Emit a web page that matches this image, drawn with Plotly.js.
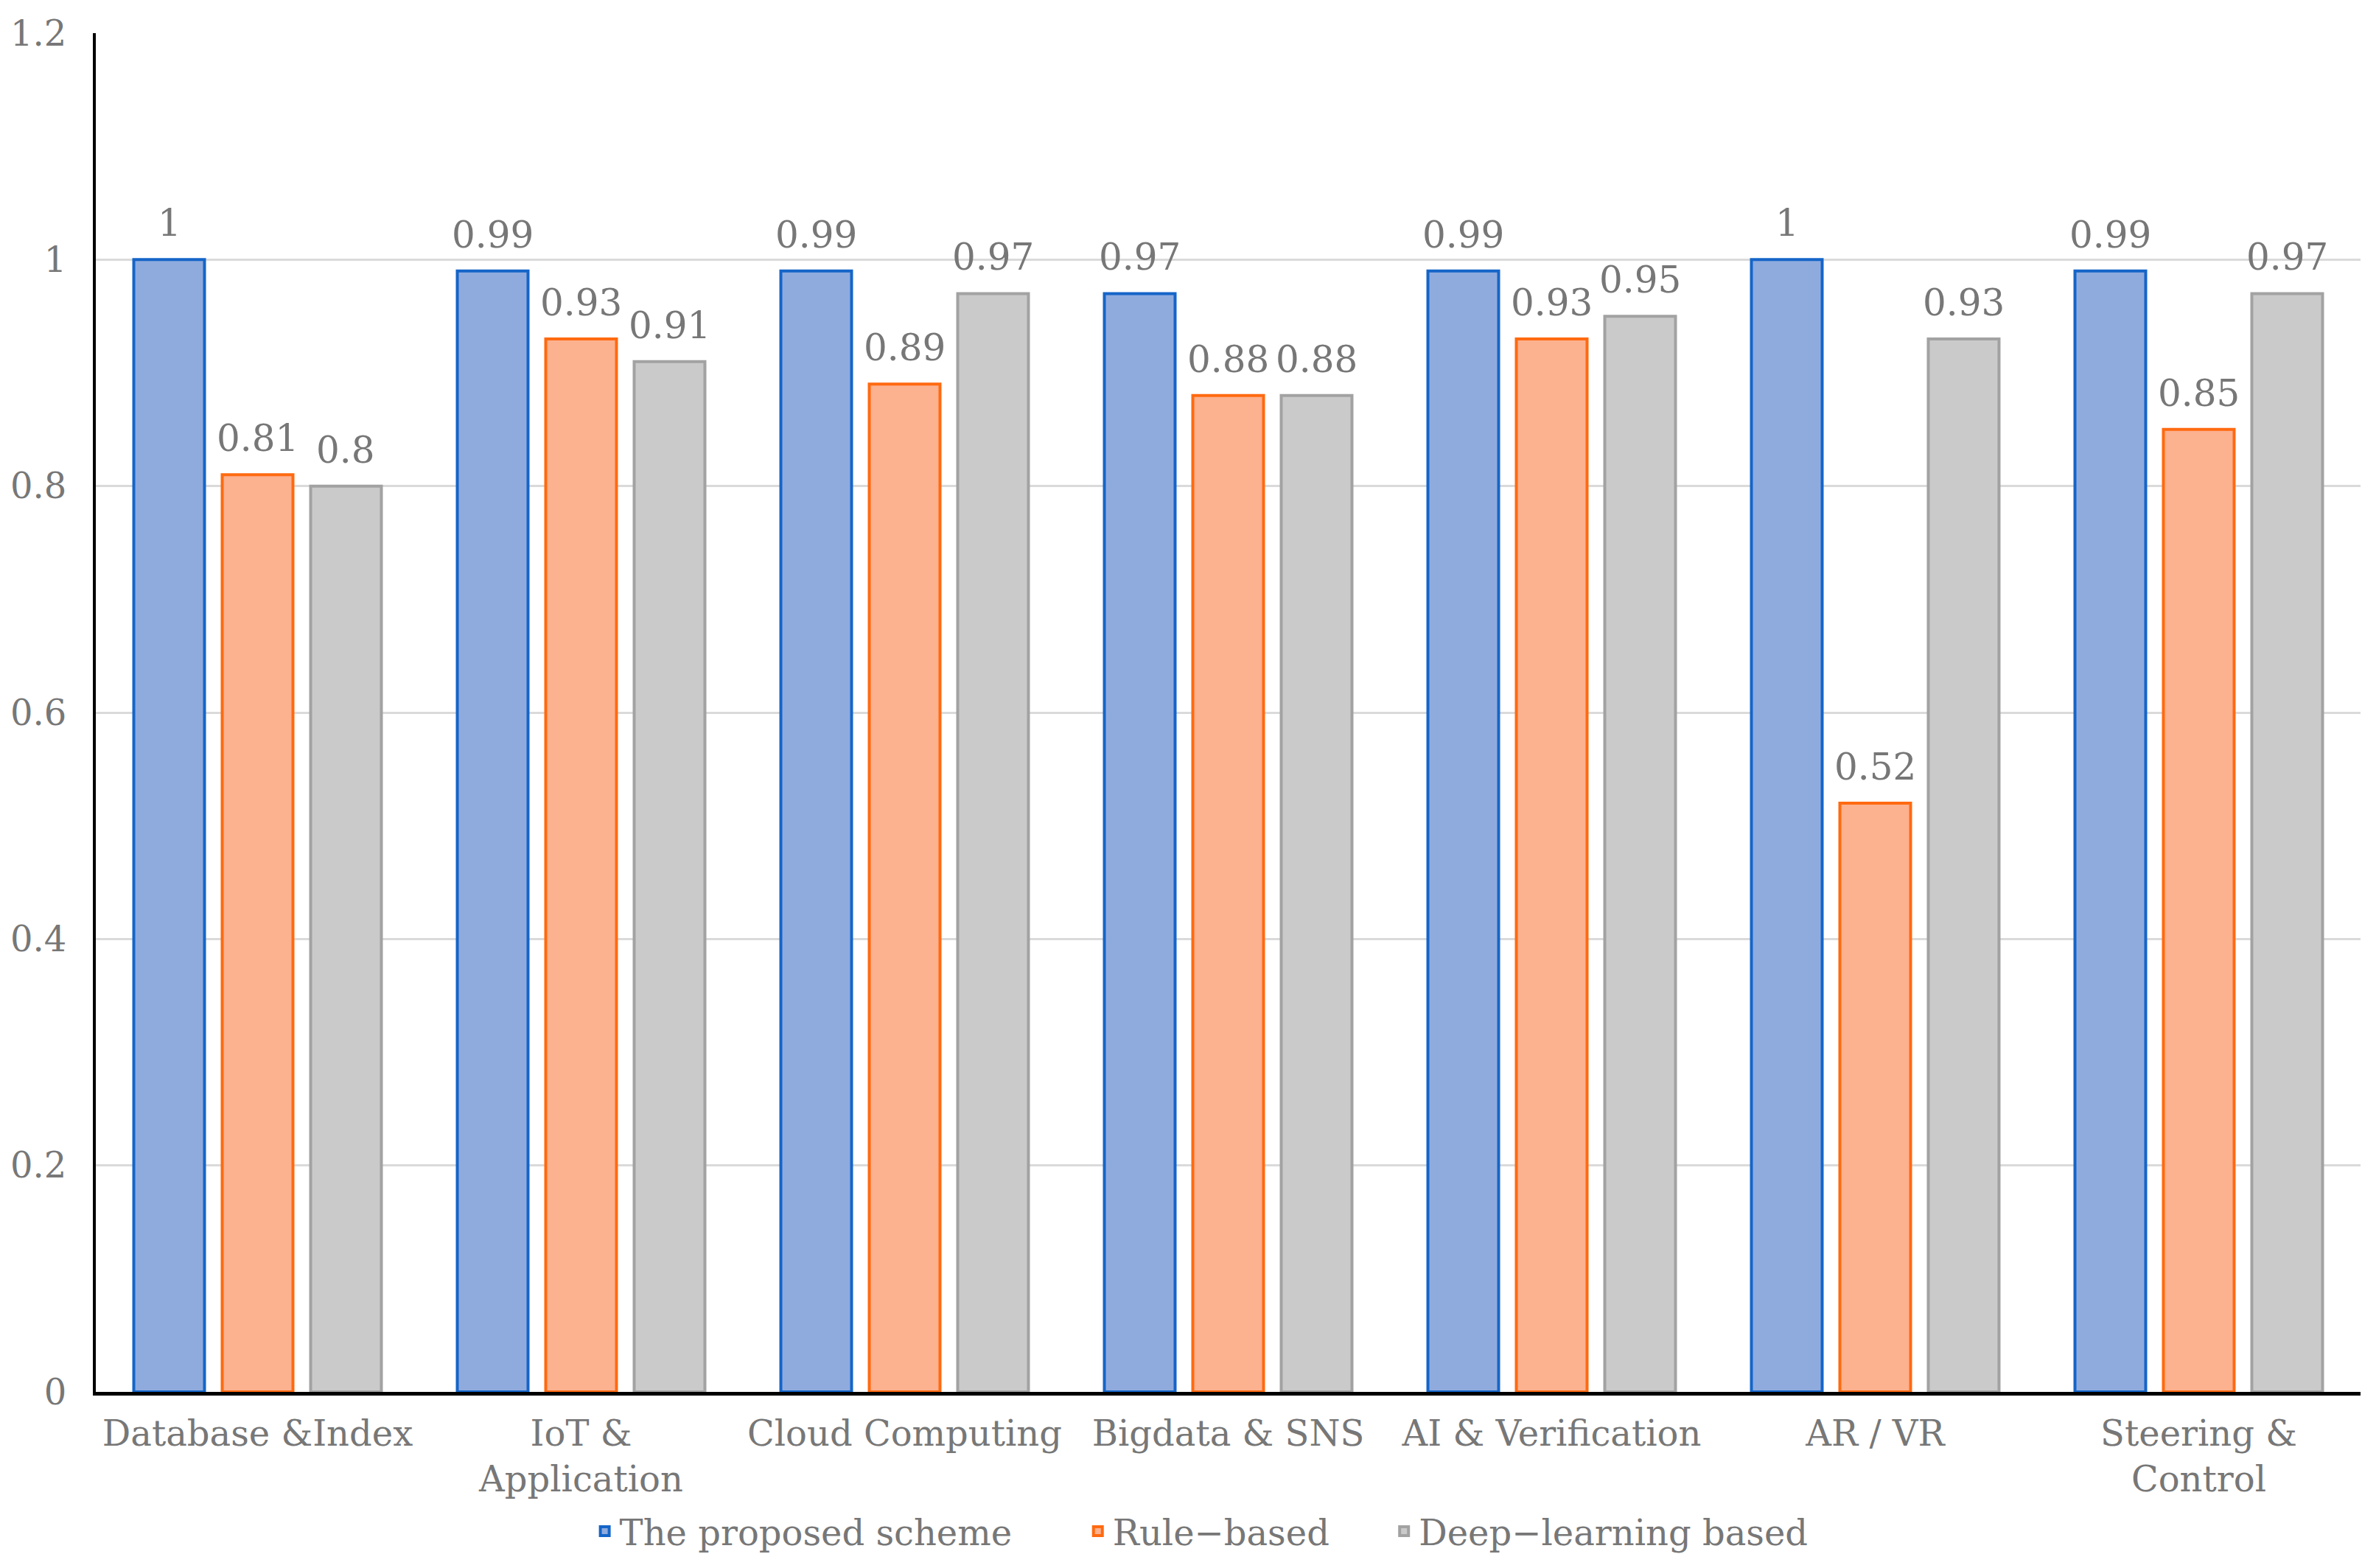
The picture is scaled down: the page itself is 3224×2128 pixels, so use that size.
<!DOCTYPE html>
<html>
<head>
<meta charset="utf-8">
<script src="https://cdn.plot.ly/plotly-3.0.1.min.js"></script>
<style>html,body{margin:0;padding:0;background:#fff;}#chart{width:3224px;height:2128px;}</style>
</head>
<body>
<div id="chart"></div>
<script>
const categories = ["Database &Index", "IoT &<br>Application", "Cloud Computing", "Bigdata & SNS", "AI & Verification", "AR / VR", "Steering &<br>Control"];
const seriesNames = ["The proposed scheme", "Rule\u2212based", "Deep\u2212learning based"];
const proposed = [1, 0.99, 0.99, 0.97, 0.99, 1, 0.99];
const ruleBased = [0.81, 0.93, 0.89, 0.88, 0.93, 0.52, 0.85];
const deepLearning = [0.8, 0.91, 0.97, 0.88, 0.95, 0.93, 0.97];
const yTicks = [0, 0.2, 0.4, 0.6, 0.8, 1, 1.2];
const yTickLabels = ["0", "0.2", "0.4", "0.6", "0.8", "1", "1.2"];

const fontFamily = "DejaVu Serif, Liberation Serif, serif";
const textColor = "#777777";
const fills = ["#8fabde", "#fcb18f", "#cacaca"];
const lines = ["#1565c8", "#ff6a10", "#a2a2a2"];
const allSeries = [proposed, ruleBased, deepLearning];
const BARGAP = 0.18;
const legendPad = ["\u00a0\u00a0\u00a0\u00a0\u00a0\u00a0", "\u00a0\u00a0\u00a0\u00a0\u00a0", ""];

const traces = allSeries.map((vals, i) => ({
  type: "bar",
  name: seriesNames[i] + legendPad[i],
  x: categories,
  y: vals,
  marker: {color: fills[i], line: {color: lines[i], width: 4}},
  hoverinfo: "none"
}));

// value labels: placed through the axis scales at each bar's slot centre
const annotations = [];
allSeries.forEach((vals, j) => {
  vals.forEach((v, i) => {
    annotations.push({
      x: i + (j - 1) * (1 - BARGAP) / 3,
      y: v,
      xref: "x", yref: "y",
      text: String(v),
      showarrow: false,
      yanchor: "bottom", xanchor: "center",
      yshift: 18,
      font: {family: fontFamily, size: 50, color: textColor}
    });
  });
});

const layout = {
  width: 3224, height: 2128,
  paper_bgcolor: "#ffffff", plot_bgcolor: "#ffffff",
  margin: {l: 130, r: 21, t: 45, b: 228},
  barmode: "group",
  bargap: BARGAP,
  bargroupgap: 0.2,
  font: {family: fontFamily, size: 48, color: textColor},
  annotations: annotations,
  xaxis: {
    type: "category",
    showline: true, linecolor: "#000000", linewidth: 5,
    ticks: "", showgrid: false,
    ticklabelstandoff: 10,
    tickfont: {family: fontFamily, size: 48, color: textColor},
    automargin: false
  },
  yaxis: {
    range: [0, 1.2],
    tickvals: yTicks, ticktext: yTickLabels,
    showline: true, linecolor: "#000000", linewidth: 4,
    showgrid: true, gridcolor: "#dadada", gridwidth: 3,
    zeroline: false, ticks: "",
    ticklabelstandoff: 26,
    tickfont: {family: fontFamily, size: 48, color: textColor},
    automargin: false
  },
  showlegend: true,
  legend: {
    orientation: "h", x: 0.488, xanchor: "center", y: -0.082, yanchor: "top",
    font: {family: fontFamily, size: 48, color: textColor},
    itemwidth: 30, tracegroupgap: 0
  }
};

Plotly.newPlot("chart", traces, layout, {staticPlot: true});
</script>
</body>
</html>
